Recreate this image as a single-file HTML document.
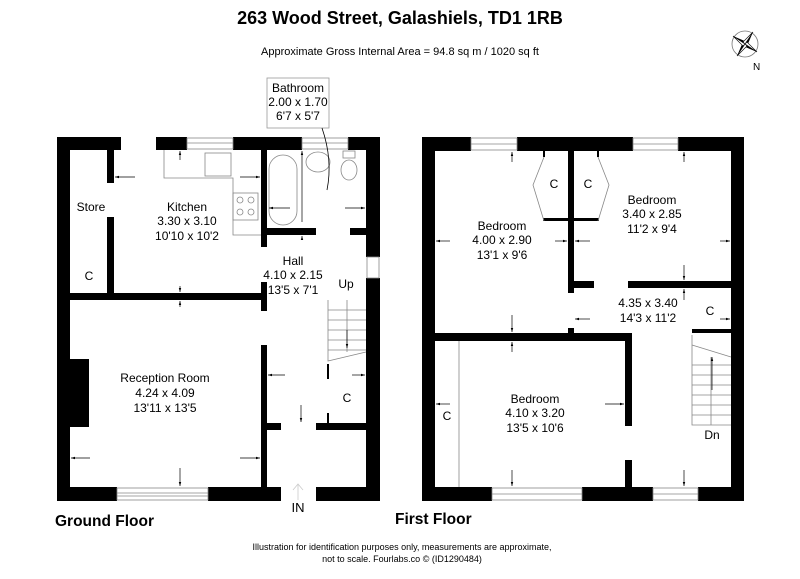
<!DOCTYPE html>
<html><head><meta charset="utf-8"><style>
html,body{margin:0;padding:0;background:#fff}
svg{display:block}
text{font-family:"Liberation Sans",Arial,sans-serif;fill:#000}
</style></head><body>
<svg width="800" height="579" viewBox="0 0 800 579" xmlns="http://www.w3.org/2000/svg">
<defs>
<marker id="a" viewBox="0 0 10 10" refX="10" refY="5" markerWidth="6" markerHeight="6" orient="auto"><path d="M0,2L10,5L0,8z" fill="#000"/></marker>
</defs>
<text x="400" y="24" font-size="18" font-weight="bold" text-anchor="middle">263 Wood Street, Galashiels, TD1 1RB</text>
<text x="400" y="55" font-size="11" text-anchor="middle">Approximate Gross Internal Area = 94.8 sq m / 1020 sq ft</text>
<g transform="translate(745,44)">
<circle r="13" fill="none" stroke="#777" stroke-width="0.8"/>
<path d="M-12,-8L2,-2L0,0z M12,8L-2,2L0,0z M8,-12L2,2L0,0z M-8,12L-2,-2L0,0z" fill="#000"/>
<path d="M-12,-8L-2,2L0,0z M12,8L2,-2L0,0z M8,-12L-2,-2L0,0z M-8,12L2,2L0,0z" fill="#fff" stroke="#000" stroke-width="0.6"/>
</g>
<text x="753" y="70" font-size="10">N</text>

<g fill="#000">
<rect x="57" y="137" width="64" height="13"/>
<rect x="156" y="137" width="31" height="13"/>
<rect x="233" y="137" width="69" height="13"/>
<rect x="348" y="137" width="32" height="13"/>
<rect x="57" y="137" width="13" height="364"/>
<rect x="366" y="137" width="14" height="120"/>
<rect x="366" y="278" width="14" height="223"/>
<rect x="57" y="487" width="60" height="14"/>
<rect x="208" y="487" width="73" height="14"/>
<rect x="316" y="487" width="64" height="14"/>
<rect x="107" y="150" width="7" height="33"/>
<rect x="107" y="217" width="7" height="76"/>
<rect x="70" y="293" width="193" height="7"/>
<rect x="261" y="150" width="6" height="97"/>
<rect x="261" y="228" width="55" height="7"/>
<rect x="350" y="228" width="16" height="7"/>
<rect x="261" y="282" width="6" height="29"/>
<rect x="261" y="345" width="6" height="142"/>
<rect x="70" y="359" width="19" height="68"/>
<rect x="267" y="423" width="14" height="7"/>
<rect x="316" y="423" width="50" height="7"/>
<rect x="327" y="364" width="2" height="15"/>
<rect x="327" y="413" width="2" height="10"/>
<rect x="422" y="137" width="49" height="14"/>
<rect x="517" y="137" width="116" height="14"/>
<rect x="678" y="137" width="66" height="14"/>
<rect x="422" y="137" width="13" height="364"/>
<rect x="731" y="137" width="13" height="364"/>
<rect x="422" y="487" width="70" height="14"/>
<rect x="582" y="487" width="71" height="14"/>
<rect x="698" y="487" width="46" height="14"/>
<rect x="568" y="151" width="6" height="142"/>
<rect x="574" y="281" width="20" height="7"/>
<rect x="543" y="218" width="56" height="3"/>
<rect x="628" y="281" width="103" height="7"/>
<rect x="692" y="329" width="39" height="4"/>
<rect x="568" y="328" width="6" height="7"/>
<rect x="435" y="333" width="197" height="8"/>
<rect x="625" y="333" width="7" height="93"/>
<rect x="625" y="460" width="7" height="27"/>
<rect x="543" y="151" width="2" height="6"/>
<rect x="597" y="151" width="2" height="6"/>
</g>
<g fill="#fff" stroke="#888" stroke-width="0.8">
<rect x="187" y="138" width="46" height="11"/><rect x="302" y="138" width="46" height="11"/>
<rect x="367" y="257" width="12" height="21"/>
<rect x="117" y="488" width="91" height="12"/>
<rect x="471" y="138" width="46" height="12"/><rect x="633" y="138" width="45" height="12"/>
<rect x="492" y="488" width="90" height="12"/><rect x="653" y="488" width="45" height="12"/>
</g>
<g stroke="#888" stroke-width="0.8" fill="none">
<line x1="187" y1="143" x2="233" y2="143"/><line x1="302" y1="143" x2="348" y2="143"/>
<line x1="117" y1="493" x2="208" y2="493"/><line x1="117" y1="496" x2="208" y2="496"/>
<line x1="471" y1="144" x2="517" y2="144"/><line x1="633" y1="144" x2="678" y2="144"/>
<line x1="492" y1="494" x2="582" y2="494"/><line x1="653" y1="494" x2="698" y2="494"/>
<path d="M164,150V178H233V235H261"/>
<rect x="205" y="153" width="26" height="23"/>
<rect x="233" y="193" width="25" height="27"/>
<circle cx="240" cy="200" r="3"/><circle cx="251" cy="200" r="3"/><circle cx="240" cy="212" r="3"/><circle cx="251" cy="212" r="3"/>
<rect x="269" y="155" width="28" height="70" rx="14"/>
<ellipse cx="318" cy="162" rx="12" ry="10"/>
<ellipse cx="349" cy="170" rx="8" ry="10"/><rect x="343" y="151" width="12" height="7"/>
<rect x="267" y="78" width="62" height="50" stroke="#999"/>
<path d="M322,128 Q333,160 327,190" stroke="#000"/>
<path d="M328,300V361L366,352"/>
<path d="M328,310H366M328,320H366M328,330H366M328,340H366M328,350H366M347,300V352"/>
<path d="M692,335V425H731M692,345L731,357"/>
<path d="M692,365H731M692,375H731M692,385H731M692,395H731M692,405H731M692,415H731M711,357V425"/>
<path d="M544,157L533,185L544,221M598,157L609,185L598,221"/>
<line x1="459" y1="341" x2="459" y2="487"/>
<path d="M298,500V484M293,490L298,484L303,490" stroke="#ccc"/>
</g>
<g stroke="#000" stroke-width="0.7" marker-end="url(#a)">
<line x1="180" y1="160" x2="180" y2="151"/>
<line x1="135" y1="177" x2="115" y2="177"/>
<line x1="240" y1="177" x2="260" y2="177"/>
<line x1="290" y1="208" x2="269" y2="208"/>
<line x1="345" y1="208" x2="365" y2="208"/>
<line x1="302" y1="222" x2="302" y2="151"/>
<line x1="302" y1="240" x2="302" y2="236"/>
<line x1="180" y1="286" x2="180" y2="292"/>
<line x1="180" y1="307" x2="180" y2="301"/>
<line x1="90" y1="458" x2="71" y2="458"/>
<line x1="240" y1="458" x2="260" y2="458"/>
<line x1="180" y1="468" x2="180" y2="486"/>
<line x1="285" y1="375" x2="268" y2="375"/>
<line x1="347" y1="330" x2="347" y2="348"/>
<line x1="352" y1="375" x2="365" y2="375"/>
<line x1="301" y1="405" x2="301" y2="422"/>
<line x1="512" y1="162" x2="512" y2="152"/>
<line x1="684" y1="162" x2="684" y2="152"/>
<line x1="450" y1="241" x2="436" y2="241"/>
<line x1="555" y1="241" x2="567" y2="241"/>
<line x1="590" y1="241" x2="575" y2="241"/>
<line x1="720" y1="241" x2="730" y2="241"/>
<line x1="684" y1="265" x2="684" y2="280"/>
<line x1="684" y1="300" x2="684" y2="289"/>
<line x1="590" y1="319" x2="575" y2="319"/>
<line x1="720" y1="319" x2="730" y2="319"/>
<line x1="512" y1="315" x2="512" y2="332"/>
<line x1="512" y1="352" x2="512" y2="342"/>
<line x1="450" y1="404" x2="436" y2="404"/>
<line x1="605" y1="404" x2="624" y2="404"/>
<line x1="512" y1="470" x2="512" y2="486"/>
<line x1="684" y1="470" x2="684" y2="486"/>
<line x1="712" y1="390" x2="712" y2="357"/>
</g>
<g font-size="12" text-anchor="middle">
<text x="298" y="92">Bathroom</text><text x="298" y="106">2.00 x 1.70</text><text x="298" y="120">6'7 x 5'7</text>
<text x="91" y="211">Store</text>
<text x="187" y="211">Kitchen</text><text x="187" y="225">3.30 x 3.10</text><text x="187" y="240">10'10 x 10'2</text>
<text x="89" y="280">C</text>
<text x="293" y="265">Hall</text><text x="293" y="279">4.10 x 2.15</text><text x="293" y="294">13'5 x 7'1</text>
<text x="346" y="288">Up</text>
<text x="165" y="382">Reception Room</text><text x="165" y="397">4.24 x 4.09</text><text x="165" y="412">13'11 x 13'5</text>
<text x="347" y="402">C</text>
<text x="298" y="512" font-size="13">IN</text>
<text x="554" y="188">C</text><text x="588" y="188">C</text>
<text x="652" y="204">Bedroom</text><text x="652" y="218">3.40 x 2.85</text><text x="652" y="233">11'2 x 9'4</text>
<text x="502" y="230">Bedroom</text><text x="502" y="244">4.00 x 2.90</text><text x="502" y="259">13'1 x 9'6</text>
<text x="648" y="307">4.35 x 3.40</text><text x="648" y="322">14'3 x 11'2</text>
<text x="710" y="315">C</text>
<text x="447" y="420">C</text>
<text x="535" y="403">Bedroom</text><text x="535" y="417">4.10 x 3.20</text><text x="535" y="432">13'5 x 10'6</text>
<text x="712" y="439">Dn</text>
</g>
<text x="55" y="526" font-size="15.5" font-weight="bold">Ground Floor</text>
<text x="395" y="524" font-size="15.5" font-weight="bold">First Floor</text>
<g font-size="9" text-anchor="middle">
<text x="402" y="550">Illustration for identification purposes only, measurements are approximate,</text>
<text x="402" y="562">not to scale. Fourlabs.co © (ID1290484)</text>
</g>
</svg>
</body></html>
